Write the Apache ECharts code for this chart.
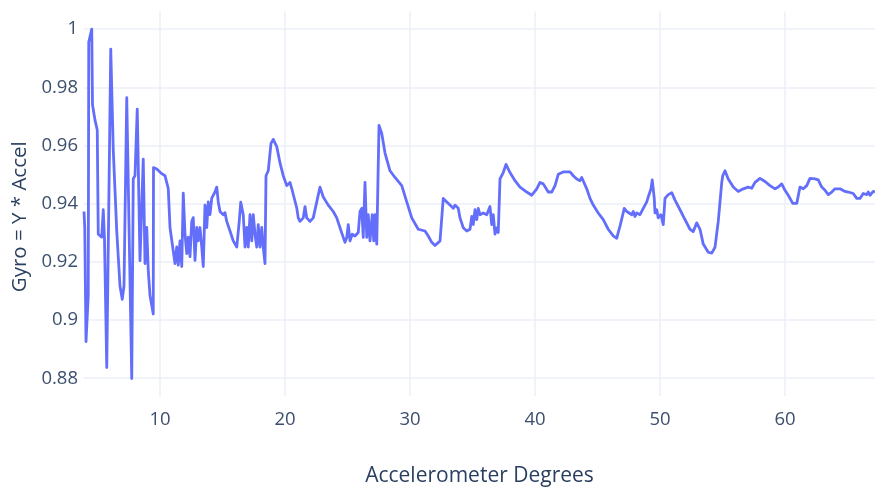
<!DOCTYPE html>
<html>
<head>
<meta charset="utf-8">
<script src="https://cdn.jsdelivr.net/npm/echarts@6/dist/echarts.min.js"></script>
<style>
  html, body { margin: 0; padding: 0; background: #ffffff; }
  #chart { width: 875px; height: 492px; }
</style>
</head>
<body>
<div id="chart"></div>
<script>
// Accelerometer angle (degrees) for each sample
const accelDegrees = [
  3.92,3.98,4.08,4.26,4.30,4.54,4.60,4.80,4.94,4.98,
  5.06,5.20,5.34,5.46,5.56,5.74,6.06,6.26,6.54,6.80,
  6.98,7.12,7.34,7.74,7.86,8.00,8.18,8.40,8.66,8.80,
  8.94,9.06,9.20,9.46,9.48,9.74,10.14,10.40,10.66,10.80,
  11.20,11.34,11.46,11.60,11.74,11.86,12.00,12.14,12.26,12.40,
  12.54,12.66,12.80,12.94,13.06,13.20,13.34,13.46,13.60,13.74,
  13.86,14.00,14.14,14.40,14.54,14.66,14.80,15.06,15.20,15.34,
  15.60,15.86,16.14,16.34,16.46,16.66,16.80,16.94,17.06,17.20,
  17.34,17.46,17.60,17.74,17.86,18.00,18.14,18.26,18.40,18.48,
  18.66,18.80,18.88,19.06,19.34,19.60,19.86,20.14,20.40,20.54,
  20.94,21.06,21.20,21.46,21.60,21.74,22.00,22.26,22.54,22.80,
  23.06,23.46,23.86,24.14,24.40,24.66,24.80,24.94,25.06,25.20,
  25.38,25.60,25.86,26.00,26.14,26.26,26.40,26.54,26.66,26.80,
  26.98,27.10,27.20,27.34,27.46,27.52,27.74,28.00,28.40,28.80,
  29.34,29.74,30.14,30.66,31.20,31.46,31.74,32.00,32.14,32.40,
  32.66,32.94,33.20,33.34,33.46,33.60,33.86,34.00,34.26,34.54,
  34.80,34.94,35.06,35.20,35.34,35.46,35.60,35.86,36.14,36.40,
  36.54,36.66,36.80,36.94,37.06,37.20,37.46,37.68,38.00,38.40,
  38.80,39.34,39.74,40.14,40.40,40.66,41.06,41.34,41.60,41.86,
  42.26,42.80,43.06,43.34,43.60,43.74,43.86,44.14,44.40,44.66,
  45.06,45.46,45.86,46.26,46.54,46.66,46.80,46.94,47.02,47.14,
  47.34,47.46,47.74,47.86,48.00,48.14,48.40,48.66,48.94,49.06,
  49.28,49.38,49.54,49.60,49.74,49.86,50.08,50.26,50.40,50.66,
  50.94,51.20,51.60,52.00,52.40,52.66,52.94,53.20,53.46,53.86,
  54.14,54.40,54.66,54.94,55.02,55.20,55.46,55.86,56.26,56.66,
  57.06,57.34,57.60,58.00,58.40,58.80,59.20,59.46,59.74,60.00,
  60.26,60.62,60.94,61.20,61.46,61.74,62.00,62.40,62.66,62.94,
  63.20,63.46,63.74,64.00,64.14,64.40,64.80,65.06,65.46,65.74,
  66.00,66.26,66.54,66.66,66.80,67.06,67.20
];

// Gyro / accelerometer ratio for each sample
const gyroRatio = [
  0.9373,0.9318,0.8926,0.9084,0.9955,1.0000,0.9740,0.9687,0.9687,0.9653,
  0.9295,0.9295,0.9285,0.9379,0.9278,0.8837,0.9931,0.9586,0.9305,0.9117,
  0.9071,0.9117,0.9764,0.8799,0.9486,0.9496,0.9725,0.9204,0.9553,0.9194,
  0.9318,0.9171,0.9084,0.9021,0.9524,0.9519,0.9503,0.9496,0.9452,0.9318,
  0.9194,0.9251,0.9189,0.9272,0.9184,0.9436,0.9295,0.9228,0.9285,0.9218,
  0.9339,0.9352,0.9205,0.9318,0.9272,0.9318,0.9251,0.9184,0.9395,0.9318,
  0.9406,0.9362,0.9419,0.9440,0.9457,0.9406,0.9373,0.9362,0.9369,0.9339,
  0.9306,0.9272,0.9251,0.9339,0.9405,0.9362,0.9251,0.9318,0.9251,0.9362,
  0.9272,0.9362,0.9295,0.9251,0.9328,0.9251,0.9318,0.9251,0.9194,0.9496,
  0.9513,0.9519,0.9607,0.9621,0.9596,0.9540,0.9496,0.9462,0.9473,0.9452,
  0.9385,0.9351,0.9339,0.9351,0.9390,0.9351,0.9339,0.9351,0.9406,0.9457,
  0.9423,0.9395,0.9373,0.9351,0.9317,0.9284,0.9267,0.9284,0.9328,0.9272,
  0.9295,0.9289,0.9301,0.9373,0.9384,0.9284,0.9473,0.9284,0.9362,0.9272,
  0.9362,0.9272,0.9362,0.9261,0.9261,0.9669,0.9641,0.9574,0.9513,0.9490,
  0.9462,0.9406,0.9351,0.9312,0.9306,0.9289,0.9267,0.9256,0.9250,0.9272,
  0.9418,0.9406,0.9395,0.9401,0.9384,0.9395,0.9384,0.9351,0.9317,0.9306,
  0.9312,0.9356,0.9328,0.9379,0.9345,0.9384,0.9362,0.9368,0.9362,0.9390,
  0.9328,0.9362,0.9295,0.9317,0.9301,0.9485,0.9507,0.9535,0.9507,0.9479,
  0.9457,0.9440,0.9429,0.9451,0.9473,0.9468,0.9440,0.9440,0.9462,0.9501,
  0.9509,0.9509,0.9496,0.9485,0.9479,0.9490,0.9487,0.9451,0.9418,0.9395,
  0.9368,0.9345,0.9312,0.9289,0.9281,0.9301,0.9323,0.9317,0.9362,0.9384,
  0.9373,0.9379,0.9362,0.9373,0.9356,0.9368,0.9362,0.9384,0.9406,0.9423,
  0.9451,0.9482,0.9418,0.9368,0.9379,0.9351,0.9362,0.9328,0.9418,0.9431,
  0.9438,0.9412,0.9379,0.9345,0.9312,0.9304,0.9334,0.9312,0.9261,0.9233,
  0.9230,0.9250,0.9339,0.9473,0.9496,0.9513,0.9485,0.9457,0.9442,0.9451,
  0.9457,0.9453,0.9473,0.9487,0.9476,0.9462,0.9451,0.9457,0.9468,0.9446,
  0.9429,0.9401,0.9401,0.9457,0.9451,0.9462,0.9487,0.9485,0.9482,0.9457,
  0.9446,0.9431,0.9440,0.9451,0.9446,0.9451,0.9442,0.9440,0.9435,0.9418,
  0.9418,0.9435,0.9431,0.9440,0.9429,0.9442,0.9440
];

const xTitle = 'Accelerometer Degrees';
const yTitle = 'Gyro = Y * Accel';

const TEXT = '#2a3f5f';
const TICK_TEXT = '#3c4f6d';
const GRID = '#ebf0f8';
const FONT = '"Open Sans", sans-serif';

const points = accelDegrees.map((x, i) => [x, gyroRatio[i]]);

const chart = echarts.init(document.getElementById('chart'), null, { renderer: 'canvas' });
chart.setOption({
  animation: false,
  backgroundColor: '#ffffff',
  grid: { left: 84, right: 0, top: 11.6, bottom: 86, containLabel: false },
  xAxis: {
    type: 'value',
    min: 3.92,
    max: 67.2,
    minInterval: 10,
    maxInterval: 10,
    name: xTitle,
    nameLocation: 'middle',
    nameGap: 70,
    nameTextStyle: { color: TEXT, fontFamily: FONT, fontSize: 21 },
    axisLine: { show: false },
    axisTick: { show: false },
    axisLabel: {
      color: TICK_TEXT, fontFamily: FONT, fontSize: 18.5, margin: 14,
      showMinLabel: false, showMaxLabel: false
    },
    splitLine: { show: true, showMinLine: false, showMaxLine: false,
      lineStyle: { color: GRID, width: 1.5 } }
  },
  yAxis: {
    type: 'value',
    min: 0.8739,
    max: 1.006,
    minInterval: 0.02,
    maxInterval: 0.02,
    name: yTitle,
    nameLocation: 'middle',
    nameRotate: 90,
    nameGap: 45,
    nameTextStyle: { color: TEXT, fontFamily: FONT, fontSize: 20.5, padding: [0, 26, 0, 0] },
    axisLine: { show: false },
    axisTick: { show: false },
    axisLabel: {
      color: TICK_TEXT, fontFamily: FONT, fontSize: 18.5, margin: 6,
      showMinLabel: false, showMaxLabel: false
    },
    splitLine: { show: true, showMinLine: false, showMaxLine: false,
      lineStyle: { color: GRID, width: 1.5 } }
  },
  series: [{
    type: 'line',
    data: points,
    showSymbol: false,
    symbol: 'none',
    lineStyle: { color: '#636efa', width: 2.8, join: 'round' },
    clip: true
  }]
});
</script>
</body>
</html>
